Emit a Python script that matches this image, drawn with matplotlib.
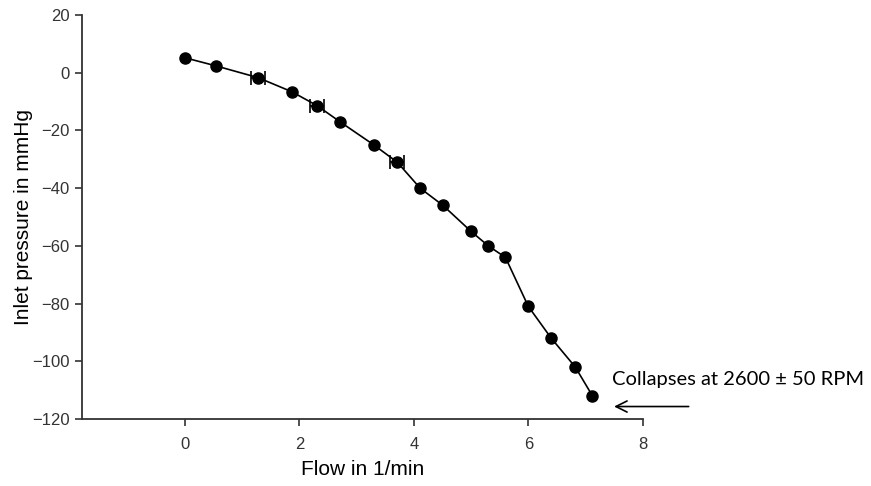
import numpy as np
import matplotlib.pyplot as plt

plt.rcParams['font.family'] = ['Liberation Sans', 'DejaVu Sans']

flow = [0, 0.54, 1.28, 1.87, 2.31, 2.71, 3.30, 3.71, 4.11, 4.51, 5.0, 5.30, 5.6, 6.0, 6.4, 6.82, 7.12]
pressure = [5.2, 2.4, -1.7, -6.6, -11.4, -17, -25, -31, -40, -46, -55, -60, -64, -81, -92, -102, -112]
flow_err = [0, 0, 0.12, 0, 0.12, 0, 0, 0.12, 0, 0, 0, 0, 0, 0, 0, 0, 0]

fig = plt.figure(figsize=(8.71, 4.86), dpi=100)
ax = fig.add_axes([0.094, 0.138, 0.644, 0.831])
ax.plot(flow, pressure, 'o-', color='black', ms=8, lw=1.2)
idx = [i for i, e in enumerate(flow_err) if e > 0]
ax.errorbar([flow[i] for i in idx], [pressure[i] for i in idx], xerr=[flow_err[i] for i in idx],
            fmt='none', ecolor='black', elinewidth=1.2, capsize=5, capthick=1.2)

ax.set_xlim(-1.8, 8)
ax.set_ylim(-120, 20)
ax.set_xticks([0, 2, 4, 6, 8])
ax.set_yticks(np.arange(-120, 21, 20))
ax.spines['top'].set_visible(False)
ax.spines['right'].set_visible(False)
for s in ['left', 'bottom']:
    ax.spines[s].set_linewidth(1.3)
    ax.spines[s].set_color('#333333')
ax.tick_params(direction='out', length=5, width=1.2, labelsize=12, colors='#333333', pad=4)
ax.tick_params(axis='x', pad=8)

ax.set_xlabel('Flow in 1/min', fontsize=15, labelpad=6)
ax.set_ylabel('Inlet pressure in mmHg', fontsize=15, labelpad=-1)

ax.annotate('', xy=(7.45, -115.7), xytext=(8.85, -115.7), annotation_clip=False,
            arrowprops=dict(arrowstyle='->', color='black', lw=1.2, mutation_scale=20))
ax.text(7.47, -106.5, 'Collapses at 2600 \u00b1 50 RPM', fontsize=14.5, family=['Lato', 'DejaVu Sans'],
        va='center', ha='left', clip_on=False)

plt.savefig('out.png', dpi=100)
